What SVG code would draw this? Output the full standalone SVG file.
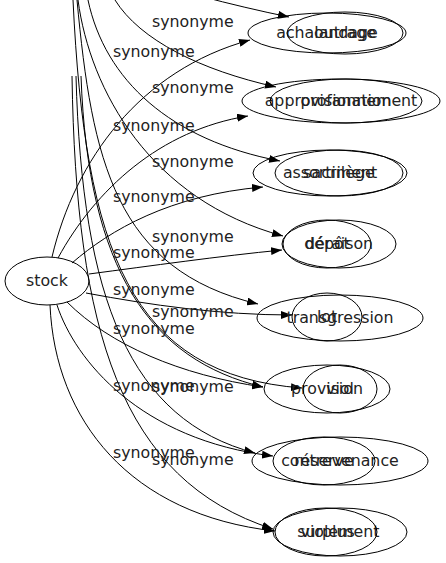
<svg xmlns="http://www.w3.org/2000/svg" width="446" height="563" viewBox="0 0 446 563">
<style>
.n{fill:none;stroke:#000;stroke-width:1}
.e{fill:none;stroke:#000;stroke-width:1}
.t{font-family:"DejaVu Sans","Verdana",sans-serif;font-size:15.8px;fill:#222;text-anchor:middle}
.l{font-family:"DejaVu Sans","Verdana",sans-serif;font-size:15.8px;fill:#222}
</style>
<defs>
<marker id="ah" viewBox="0 0 11 8" refX="11" refY="4" markerWidth="11" markerHeight="8" markerUnits="userSpaceOnUse" orient="auto">
<path d="M0,0 L11,4 L0,8 Z" fill="#000"/>
</marker>
</defs>
<rect width="446" height="563" fill="#fff"/>
<g id="edges">
<path class="e" marker-end="url(#ah)" d="M52,257 C75,160 140,70 250,40"/>
<path class="e" marker-end="url(#ah)" d="M58,258 C95,190 160,130 248,116"/>
<path class="e" marker-end="url(#ah)" d="M72,263 C110,230 170,195 263,187"/>
<path class="e" marker-end="url(#ah)" d="M89,274 C150,266 220,256 282,250"/>
<path class="e" marker-end="url(#ah)" d="M86,293 C150,305 220,315 292,315"/>
<path class="e" marker-end="url(#ah)" d="M67,302 C110,345 180,375 263,387"/>
<path class="e" marker-end="url(#ah)" d="M57,305 C75,360 140,440 273,456"/>
<path class="e" marker-end="url(#ah)" d="M50,305 C55,420 130,515 275,531"/>
<path class="e" marker-end="url(#ah)" d="M200,-4 C230,4 260,11 289,17"/>
<path class="e" marker-end="url(#ah)" d="M115,0 C140,40 200,70 276,87"/>
<path class="e" marker-end="url(#ah)" d="M88,0 C105,80 170,140 280,161"/>
<path class="e" marker-end="url(#ah)" d="M78,0 C90,90 150,200 283,236"/>
<path class="e" marker-end="url(#ah)" d="M77,0 C92,160 115,270 258,304"/>
<path class="e" marker-end="url(#ah)" d="M73,0 C85,250 130,375 302,388"/>
<path class="e" marker-end="url(#ah)" d="M76,76 C82,300 130,420 255,453"/>
<path class="e" marker-end="url(#ah)" d="M72,76 C76,330 120,480 273,529"/>
<path class="e" marker-end="url(#ah)" d="M81,76 C88,270 150,360 263,387"/>
<text class="l" x="113" y="57">synonyme</text>
<text class="l" x="113" y="131">synonyme</text>
<text class="l" x="113" y="202">synonyme</text>
<text class="l" x="113" y="258">synonyme</text>
<text class="l" x="113" y="295">synonyme</text>
<text class="l" x="113" y="334">synonyme</text>
<text class="l" x="113" y="391">synonyme</text>
<text class="l" x="113" y="458">synonyme</text>
<text class="l" x="152" y="27">synonyme</text>
<text class="l" x="152" y="93">synonyme</text>
<text class="l" x="152" y="167">synonyme</text>
<text class="l" x="152" y="242">synonyme</text>
<text class="l" x="152" y="317">synonyme</text>
<text class="l" x="152" y="392">synonyme</text>
<text class="l" x="152" y="465">synonyme</text>
</g>
<g id="node-stock"><ellipse class="n" cx="47" cy="281" rx="42" ry="24"/><text class="t" x="47" y="286">stock</text></g>
<g id="node-achalandage"><ellipse class="n" cx="327" cy="33" rx="79" ry="20"/><text class="t" x="327" y="38">achalandage</text></g>
<g id="node-outrage"><ellipse class="n" cx="345" cy="33" rx="58" ry="21"/><text class="t" x="345" y="38">outrage</text></g>
<g id="node-approvisionnement"><ellipse class="n" cx="341" cy="101" rx="99" ry="22"/><text class="t" x="341" y="106">approvisionnement</text></g>
<g id="node-profanation"><ellipse class="n" cx="346" cy="101" rx="76" ry="22"/><text class="t" x="346" y="106">profanation</text></g>
<g id="node-assortiment"><ellipse class="n" cx="330" cy="173" rx="77" ry="23"/><text class="t" x="330" y="178">assortiment</text></g>
<g id="node-sacrilege"><ellipse class="n" cx="339" cy="173" rx="64" ry="23"/><text class="t" x="339" y="178">sacrilège</text></g>
<g id="node-depot"><ellipse class="n" cx="327" cy="244" rx="44" ry="24"/><text class="t" x="327" y="249">dépôt</text></g>
<g id="node-deraison"><ellipse class="n" cx="339" cy="244" rx="57" ry="24"/><text class="t" x="339" y="249">déraison</text></g>
<g id="node-transgression"><ellipse class="n" cx="340" cy="318" rx="83" ry="23"/><text class="t" x="340" y="323">transgression</text></g>
<g id="node-lot"><ellipse class="n" cx="327" cy="317" rx="35" ry="24"/><text class="t" x="327" y="322">lot</text></g>
<g id="node-provision"><ellipse class="n" cx="327" cy="389" rx="63" ry="24"/><text class="t" x="327" y="394">provision</text></g>
<g id="node-viol"><ellipse class="n" cx="340" cy="389" rx="37" ry="24"/><text class="t" x="340" y="394">viol</text></g>
<g id="node-contrevenance"><ellipse class="n" cx="340" cy="461" rx="88" ry="24"/><text class="t" x="340" y="466">contrevenance</text></g>
<g id="node-reserve"><ellipse class="n" cx="324" cy="461" rx="51" ry="24"/><text class="t" x="324" y="466">réserve</text></g>
<g id="node-violement"><ellipse class="n" cx="340" cy="532" rx="67" ry="24"/><text class="t" x="340" y="537">violement</text></g>
<g id="node-surplus"><ellipse class="n" cx="326" cy="532" rx="51" ry="24"/><text class="t" x="326" y="537">surplus</text></g>
</svg>
